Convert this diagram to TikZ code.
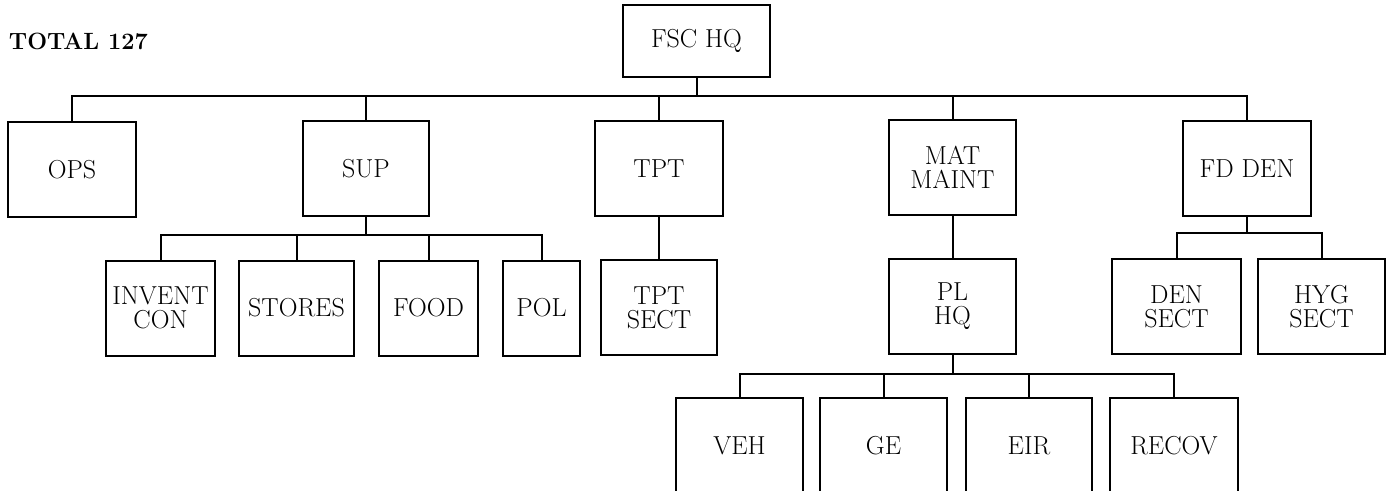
\documentclass[tikz,border=0pt]{standalone}
\begin{document}
\begin{tikzpicture}[x=1pt, y=-1pt, line width=2pt,
  unit/.style={draw, rectangle, inner sep=0pt, align=center,
               minimum height=95pt, font=\fontsize{26}{24}\selectfont}]
  \useasboundingbox (0,0) rectangle (1391,490);
  \clip (0,0) rectangle (1391,490);

  % Heading
  \node[anchor=west, inner sep=0pt, font=\fontsize{23.5}{25}\selectfont\bfseries] (total) at (8,41) {TOTAL 127};
  \node[unit, minimum width=147pt, minimum height=72pt] (hq) at (696.5,41) {FSC HQ};

  % First level
  \node[unit, minimum width=128pt] (ops) at (72,169.5) {OPS};
  \node[unit, minimum width=126pt] (sup) at (366,168.5) {SUP};
  \node[unit, minimum width=128pt] (tpt) at (659,168.5) {TPT};
  \node[unit, minimum width=127pt] (mat) at (952.5,167.5) {MAT\\MAINT};
  \node[unit, minimum width=128pt] (fd) at (1247,168.5) {FD DEN};

  % Second level
  \node[unit, minimum width=109pt] (invent) at (160.5,308) {INVENT\\CON};
  \node[unit, minimum width=115pt] (stores) at (296.5,308) {STORES};
  \node[unit, minimum width=99pt] (food) at (428.5,308) {FOOD};
  \node[unit, minimum width=77pt] (pol) at (541.5,308) {POL};
  \node[unit, minimum width=116pt] (tptsect) at (659,307.5) {TPT\\SECT};
  \node[unit, minimum width=127pt] (plhq) at (952.5,306.5) {PL\\HQ};
  \node[unit, minimum width=129pt] (den) at (1176.5,306.5) {DEN\\SECT};
  \node[unit, minimum width=127pt] (hyg) at (1321.5,306.5) {HYG\\SECT};

  % Third level
  \node[unit, minimum width=127pt] (veh) at (739.5,445.5) {VEH};
  \node[unit, minimum width=127pt] (ge) at (883.5,445.5) {GE};
  \node[unit, minimum width=126pt] (eir) at (1029,445.5) {EIR};
  \node[unit, minimum width=128pt] (recov) at (1174,445.5) {RECOV};

  % Connectors
  \coordinate (hqbus) at (0,96);
  \coordinate (supbus) at (0,235);
  \coordinate (fdbus) at (0,233);
  \coordinate (plbus) at (0,374);
  \foreach \c in {ops,sup,tpt,mat,fd}
    \draw (hq.south) -- (hq.south |- hqbus) -| (\c.north);
  \foreach \c in {invent,stores,food,pol}
    \draw (sup.south) -- (sup.south |- supbus) -| (\c.north);
  \foreach \c in {den,hyg}
    \draw (fd.south) -- (fd.south |- fdbus) -| (\c.north);
  \foreach \c in {veh,ge,eir,recov}
    \draw (plhq.south) -- (plhq.south |- plbus) -| (\c.north);
  \draw (tpt.south) -- (tptsect.north);
  \draw (mat.south) -- (plhq.north);
\end{tikzpicture}
\end{document}
